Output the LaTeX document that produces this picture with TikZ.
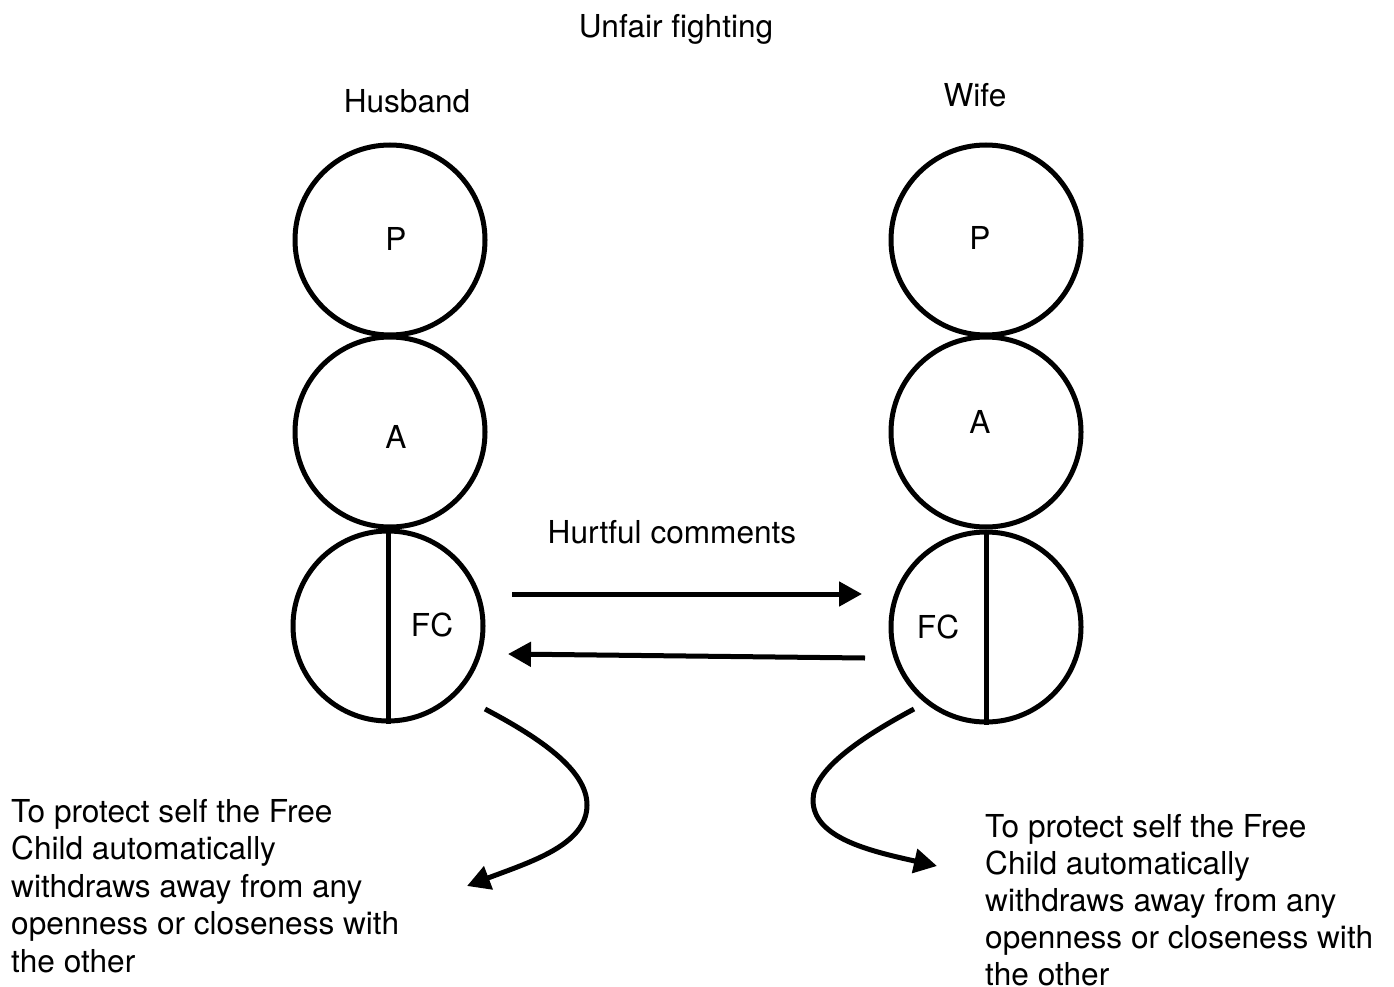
\documentclass[tikz,border=0pt]{standalone}
\usepackage{fontspec}
\setmainfont{TeX Gyre Heros}
\usetikzlibrary{arrows.meta}
\begin{document}
\begin{tikzpicture}[x=1pt,y=-1pt,
  ego/.style={draw,circle,line width=5pt,minimum size=190pt,inner sep=0pt},
  lbl/.style={inner sep=0pt,anchor=base,font=\fontsize{31.6}{37.5}\selectfont},
  note/.style={inner sep=0pt,anchor=north west,align=left,font=\fontsize{31.6}{37}\selectfont},
  arr/.style={line width=5pt,-{Triangle[length=23pt,width=24pt]}},
  divider/.style={line width=5pt}]
\useasboundingbox (0,0) rectangle (1394,987);

% headings
\node[lbl] (title) at (676,38) {Unfair fighting};
\node[lbl] (husband) at (407,113) {Husband};
\node[lbl] (wife) at (975,107) {Wife};

% husband ego states
\node[ego] (hP) at (390,240) {};
\node[ego] (hA) at (390,432) {};
\node[ego] (hFC) at (388,626) {};
\draw[divider] (hFC.north) -- (hFC.south);
\node[lbl] (hPt) at (396,250) {P};
\node[lbl] (hAt) at (396,448) {A};
\node[lbl] (hFCt) at (432,636) {FC};

% wife ego states
\node[ego] (wP) at (986,240) {};
\node[ego] (wA) at (986,432) {};
\node[ego] (wFC) at (986,627) {};
\draw[divider] (wFC.north) -- (wFC.south);
\node[lbl] (wPt) at (980,249) {P};
\node[lbl] (wAt) at (980,433) {A};
\node[lbl] (wFCt) at (938,638) {FC};

% exchange between the two Free Child states
\node[lbl] (hurt) at (672,543) {Hurtful comments};
\coordinate (hOut) at (512,594);
\coordinate (wIn) at (862,594);
\coordinate (wOut) at (865,658);
\coordinate (hIn) at (508,654);
\draw[arr] (hOut) -- (wIn);
\draw[arr] (wOut) -- (hIn);

% withdrawal
\coordinate (hLeave) at (485,709);
\coordinate (hTip) at (467,886);
\coordinate (wLeave) at (914,709);
\coordinate (wTip) at (937,866);
\draw[arr] (hLeave) .. controls (540,738) and (587,770) .. (587,805)
  .. controls (587,845) and (530,862) .. (hTip);
\draw[arr] (wLeave) .. controls (860,738) and (813,770) .. (813,800)
  .. controls (813,838) and (870,851) .. (wTip);

\node[note,font=\fontsize{31.6}{37.5}\selectfont] (hNote) at (11,799) {To protect self the Free\\Child automatically\\withdraws away from any\\openness or closeness with\\the other};
\node[note] (wNote) at (985,814) {To protect self the Free\\Child automatically\\withdraws away from any\\openness or closeness with\\the other};
\end{tikzpicture}
\end{document}
